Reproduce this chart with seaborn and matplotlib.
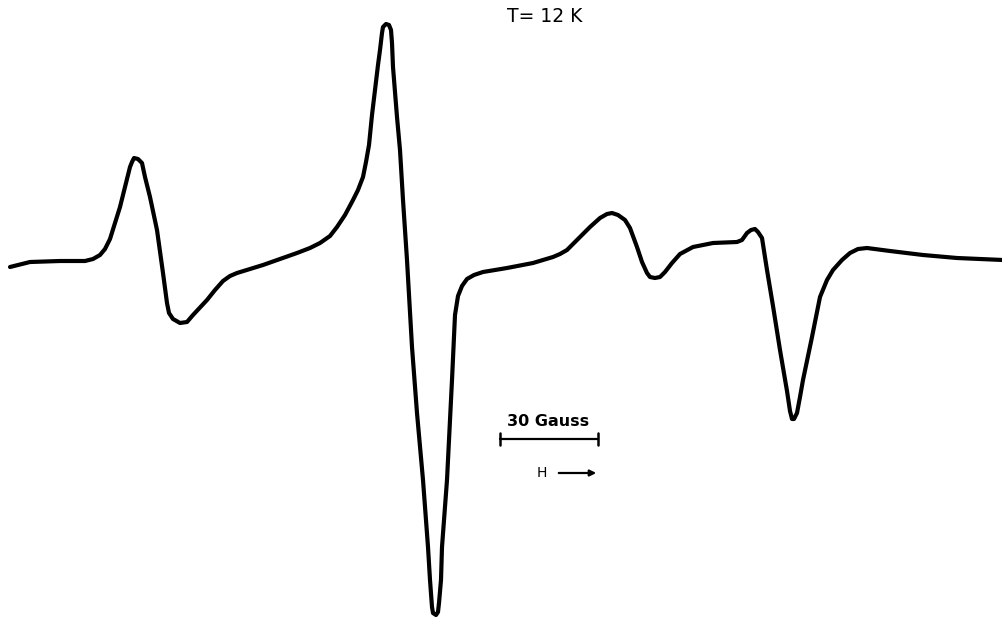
import numpy as np
import pandas as pd
import matplotlib
matplotlib.use("Agg")
import matplotlib.pyplot as plt
import seaborn as sns

# EPR derivative spectrum.
# field: chart field units (98 units = 30 Gauss), signal: arbitrary units (baseline ~0)
field = [10, 30, 60, 85, 93, 100, 105, 110, 120, 130, 132, 134, 138, 142, 145, 150,
         157, 163, 167, 169, 173, 180, 187, 193, 207, 215, 223, 230, 237, 263, 297,
         310, 320, 330, 337, 345, 353, 358, 363, 366, 369, 372, 375, 378, 380, 382,
         383, 386, 389, 391, 392, 393, 397, 400, 403, 407, 412, 417, 423, 428, 430,
         432, 433, 436, 438, 439, 441, 442, 447, 452, 455, 458, 462, 467, 474, 483,
         507, 533, 553, 560, 567, 575, 583, 590, 600, 607, 612, 618, 625, 630, 637,
         642, 647, 650, 655, 660, 665, 672, 680, 693, 713, 737, 742, 747, 751, 755,
         758, 762, 765, 767, 773, 780, 787, 790, 792, 794, 797, 800, 803, 812, 820,
         827, 833, 842, 850, 858, 867, 890, 923, 957, 1003]
signal = [-5, 0, 1, 1, 3, 7, 13, 23, 55, 95, 100, 104, 103, 99, 85, 65,
          32, -11, -41, -51, -57, -61, -60, -53, -38, -28, -19, -14, -11, -3, 9,
          14, 19, 26, 35, 47, 62, 72, 85, 100, 117, 147, 172, 197, 212, 229,
          235, 238, 237, 232, 219, 195, 145, 112, 62, 2, -85, -151, -218, -285, -318,
          -345, -351, -353, -350, -341, -318, -285, -218, -118, -53, -34, -24, -17, -13, -10,
          -6, -1, 5, 8, 12, 20, 28, 35, 44, 48, 49, 47, 42, 34, 15,
          0, -11, -15, -16, -15, -10, -1, 8, 15, 19, 20, 22, 29, 32, 33,
          30, 24, 5, -8, -44, -88, -129, -149, -157, -157, -151, -135, -118, -75, -35,
          -18, -8, 2, 9, 13, 14, 11, 7, 4, 2]

title_text = "T= 12 K"
scale_label = "30 Gauss"
scale_start = 500   # field units
scale_len = 98      # field units = 30 Gauss
h_label = "H"

df = pd.DataFrame({"field": field, "signal": signal})

sns.set_theme(style="white")
plt.rcParams["font.family"] = ["DejaVu Sans"]

fig = plt.figure(figsize=(10.03, 6.18), dpi=100)
ax = fig.add_axes([0, 0, 1, 1])
sns.lineplot(data=df, x="field", y="signal", ax=ax, color="black",
             linewidth=3.0, sort=False, estimator=None)
ax.lines[0].set_solid_joinstyle("round")
ax.lines[0].set_solid_capstyle("round")

ax.set_xlim(0, 1003)
ax.set_ylim(262 - 618, 262)
ax.axis("off")

# title
ax.text(545, 262 - 17, title_text, ha="center", va="center",
        fontsize=13.5, color="black")

# scale bar
yb = 262 - 439
ax.plot([scale_start, scale_start + scale_len], [yb, yb], color="black", lw=1.6)
for xe in (scale_start, scale_start + scale_len):
    ax.plot([xe, xe], [yb - 6, yb + 6], color="black", lw=1.8)
ax.text(scale_start + scale_len / 2 - 1, 262 - 421, scale_label, ha="center",
        va="center", fontsize=11.5, color="black", fontweight="bold")

# field direction arrow
ya = 262 - 473
ax.text(542, ya, h_label, ha="center", va="center", fontsize=10, color="black")
ax.annotate("", xy=(599, ya), xytext=(556, ya),
            arrowprops=dict(arrowstyle="-|>", color="black", lw=1.6,
                            mutation_scale=9))

fig.savefig("out.png", dpi=100)
